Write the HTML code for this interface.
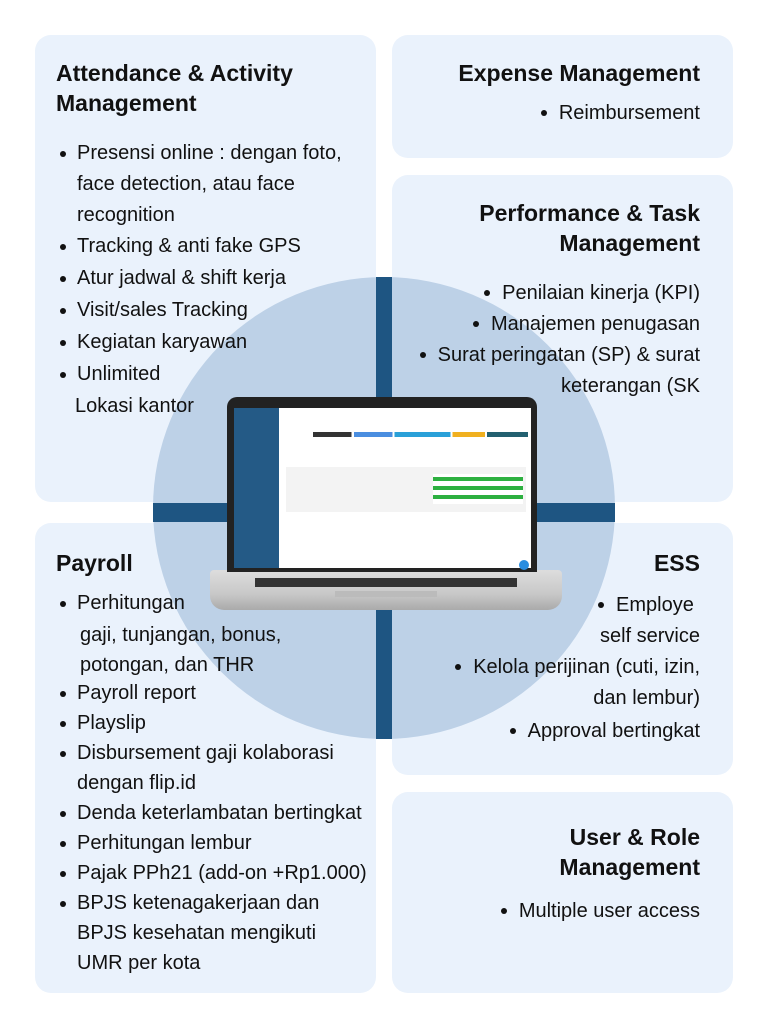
<!DOCTYPE html>
<html><head><meta charset="utf-8"><style>
*{margin:0;padding:0;box-sizing:border-box}
body{width:768px;height:1028px;background:#fff;position:relative;overflow:hidden;font-family:"Liberation Sans",sans-serif;color:#111}
.card{position:absolute;background:#eaf2fc;border-radius:16px}
.t{position:absolute;font-size:20px;white-space:nowrap;line-height:24px}
.h{position:absolute;font-size:23px;font-weight:bold;white-space:nowrap;line-height:28px}
.r{text-align:right}
.b{position:absolute;width:6px;height:6px;border-radius:50%;background:#111}
.d{display:inline-block;width:6px;height:6px;border-radius:50%;background:#111;vertical-align:middle;margin-right:12px;position:relative;top:-1px}
</style></head><body>
<div class="card" style="left:35px;top:35px;width:341px;height:467px"></div>
<div class="card" style="left:392px;top:35px;width:341px;height:123px"></div>
<div class="card" style="left:392px;top:175px;width:341px;height:327px"></div>
<div class="card" style="left:35px;top:523px;width:341px;height:470px"></div>
<div class="card" style="left:392px;top:523px;width:341px;height:252px"></div>
<div class="card" style="left:392px;top:792px;width:341px;height:201px"></div>
<div style="position:absolute;left:153px;top:277px;width:462px;height:462px;border-radius:50%;background:#bdd1e7"></div>
<div style="position:absolute;left:376px;top:277px;width:16px;height:462px;background:#1e5582"></div>
<div style="position:absolute;left:153px;top:503px;width:462px;height:19px;background:#1e5582"></div>
<!-- laptop -->
<div style="position:absolute;left:210px;top:570px;width:352px;height:40px;background:linear-gradient(#ddd,#c8c8c8 60%,#aaa);border-radius:4px 4px 14px 14px"></div>
<div style="position:absolute;left:255px;top:578px;width:262px;height:9px;background:#333"></div>
<div style="position:absolute;left:335px;top:591px;width:102px;height:6px;background:#bbb"></div>
<div style="position:absolute;left:227px;top:397px;width:310px;height:175px;background:#222;border-radius:10px 10px 0 0"></div>
<div style="position:absolute;left:234px;top:408px;width:45px;height:160px;background:#245a86"></div>
<div style="position:absolute;left:279px;top:408px;width:252px;height:160px;background:#fff"></div>
<div style="position:absolute;left:313px;top:432px;width:215px;height:5px;background:linear-gradient(90deg,#333 0 18%,#fff 18% 19%,#4a8ee0 19% 37%,#fff 37% 38%,#2aa0d8 38% 64%,#fff 64% 65%,#f0b020 65% 80%,#fff 80% 81%,#226070 81%)"></div>
<div style="position:absolute;left:286px;top:467px;width:240px;height:45px;background:#f3f3f3"></div>
<div style="position:absolute;left:433px;top:474px;width:90px;height:30px;background:repeating-linear-gradient(#fff 0 3px,#2db040 3px 7px,#fff 7px 9px)"></div>
<div style="position:absolute;left:519px;top:560px;width:10px;height:10px;border-radius:50%;background:#2a8de0"></div>

<div class="h" style="left:56px;top:59px">Attendance &amp; Activity</div>
<div class="h" style="left:56px;top:89px">Management</div>
<div class="b" style="left:60px;top:151px"></div><div class="t" style="left:77px;top:141px">Presensi online : dengan foto,</div>
<div class="t" style="left:77px;top:172px">face detection, atau face</div>
<div class="t" style="left:77px;top:203px">recognition</div>
<div class="b" style="left:60px;top:244px"></div><div class="t" style="left:77px;top:234px">Tracking &amp; anti fake GPS</div>
<div class="b" style="left:60px;top:276px"></div><div class="t" style="left:77px;top:266px">Atur jadwal &amp; shift kerja</div>
<div class="b" style="left:60px;top:308px"></div><div class="t" style="left:77px;top:298px">Visit/sales Tracking</div>
<div class="b" style="left:60px;top:340px"></div><div class="t" style="left:77px;top:330px">Kegiatan karyawan</div>
<div class="b" style="left:60px;top:372px"></div><div class="t" style="left:77px;top:362px">Unlimited</div>
<div class="t" style="left:75px;top:394px">Lokasi kantor</div>

<div class="h r" style="right:68px;top:59px">Expense Management</div>
<div class="t r" style="right:68px;top:101px"><span class="d"></span>Reimbursement</div>

<div class="h r" style="right:68px;top:199px">Performance &amp; Task</div>
<div class="h r" style="right:68px;top:229px">Management</div>
<div class="t r" style="right:68px;top:281px"><span class="d"></span>Penilaian kinerja (KPI)</div>
<div class="t r" style="right:68px;top:312px"><span class="d"></span>Manajemen penugasan</div>
<div class="t r" style="right:68px;top:343px"><span class="d"></span>Surat peringatan (SP) &amp; surat</div>
<div class="t r" style="right:68px;top:374px">keterangan (SK</div>

<div class="h" style="left:56px;top:549px">Payroll</div>
<div class="b" style="left:60px;top:601px"></div><div class="t" style="left:77px;top:591px">Perhitungan</div>
<div class="t" style="left:80px;top:623px">gaji, tunjangan, bonus,</div>
<div class="t" style="left:80px;top:653px">potongan, dan THR</div>
<div class="b" style="left:60px;top:691px"></div><div class="t" style="left:77px;top:681px">Payroll report</div>
<div class="b" style="left:60px;top:721px"></div><div class="t" style="left:77px;top:711px">Playslip</div>
<div class="b" style="left:60px;top:751px"></div><div class="t" style="left:77px;top:741px">Disbursement gaji kolaborasi</div>
<div class="t" style="left:77px;top:771px">dengan flip.id</div>
<div class="b" style="left:60px;top:811px"></div><div class="t" style="left:77px;top:801px">Denda keterlambatan bertingkat</div>
<div class="b" style="left:60px;top:841px"></div><div class="t" style="left:77px;top:831px">Perhitungan lembur</div>
<div class="b" style="left:60px;top:871px"></div><div class="t" style="left:77px;top:861px">Pajak PPh21 (add-on +Rp1.000)</div>
<div class="b" style="left:60px;top:901px"></div><div class="t" style="left:77px;top:891px">BPJS ketenagakerjaan dan</div>
<div class="t" style="left:77px;top:921px">BPJS kesehatan mengikuti</div>
<div class="t" style="left:77px;top:951px">UMR per kota</div>

<div class="h r" style="right:68px;top:549px">ESS</div>
<div class="t" style="left:598px;top:593px"><span class="d"></span>Employe</div>
<div class="t r" style="right:68px;top:624px">self service</div>
<div class="t r" style="right:68px;top:655px"><span class="d"></span>Kelola perijinan (cuti, izin,</div>
<div class="t r" style="right:68px;top:686px">dan lembur)</div>
<div class="t r" style="right:68px;top:719px"><span class="d"></span>Approval bertingkat</div>

<div class="h r" style="right:68px;top:823px">User &amp; Role</div>
<div class="h r" style="right:68px;top:853px">Management</div>
<div class="t r" style="right:68px;top:899px"><span class="d"></span>Multiple user access</div>
</body></html>
